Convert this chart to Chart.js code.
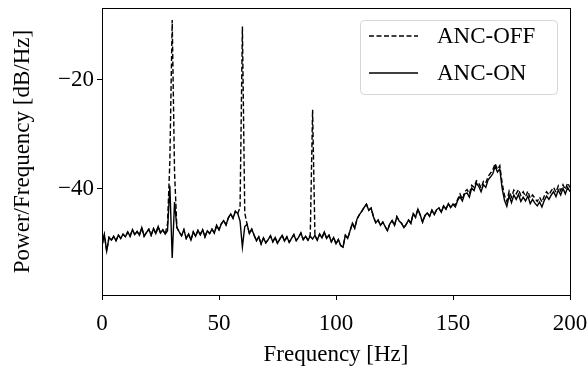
<!DOCTYPE html>
<html>
<head>
<meta charset="utf-8">
<script src="https://cdn.jsdelivr.net/npm/chart.js@4"></script>
<style>
  html, body { margin: 0; padding: 0; background: #fff; }
  #wrap { width: 587px; height: 369px; }
</style>
</head>
<body>
<div id="wrap"><canvas id="psd" width="587" height="369"></canvas></div>
<script>
// Frequency bins [Hz]
const freqs = [
  0, 1, 2, 3, 4, 5, 6, 7, 8, 9, 10, 11, 12, 13, 14, 15, 16, 17, 18, 19,
  20, 21, 22, 23, 24, 25, 26, 27, 28, 29, 30, 31, 32, 33, 34, 35, 36, 37, 38, 39,
  40, 41, 42, 43, 44, 45, 46, 47, 48, 49, 50, 51, 52, 53, 54, 55, 56, 57, 58, 59,
  60, 61, 62, 63, 64, 65, 66, 67, 68, 69, 70, 71, 72, 73, 74, 75, 76, 77, 78, 79,
  80, 81, 82, 83, 84, 85, 86, 87, 88, 89, 90, 91, 92, 93, 94, 95, 96, 97, 98, 99,
  100, 101, 102, 103, 104, 105, 106, 107, 108, 109, 110, 111, 112, 113, 114, 115, 116, 117, 118, 119,
  120, 121, 122, 123, 124, 125, 126, 127, 128, 129, 130, 131, 132, 133, 134, 135, 136, 137, 138, 139,
  140, 141, 142, 143, 144, 145, 146, 147, 148, 149, 150, 151, 152, 153, 154, 155, 156, 157, 158, 159,
  160, 161, 162, 163, 164, 165, 166, 167, 168, 169, 170, 171, 172, 173, 174, 175, 176, 177, 178, 179,
  180, 181, 182, 183, 184, 185, 186, 187, 188, 189, 190, 191, 192, 193, 194, 195, 196, 197, 198, 199,
  200
];

// PSD with ANC on [dB/Hz]
const ancOn = [
  -50.5, -48.5, -51.5, -49.0, -49.5, -48.8, -49.6, -48.6, -49.2, -48.4, -48.9,
  -48.0, -48.8, -47.6, -48.5, -47.9, -48.6, -47.2, -48.8, -48.1, -47.5,
  -48.6, -47.4, -48.3, -47.0, -48.2, -47.6, -48.4, -47.8, -39.5, -52.8,
  -42.5, -47.2, -48.0, -48.7, -47.6, -49.2, -48.4, -49.5, -48.0, -48.8,
  -47.7, -48.5, -47.6, -48.9, -47.8, -48.3, -47.5, -48.2, -46.8, -47.6,
  -46.5, -45.9, -46.7, -45.4, -44.7, -45.5, -44.2, -44.6, -46.0, -50.8,
  -47.0, -46.6, -48.3, -47.5, -48.6, -49.6, -48.9, -50.2, -49.1, -50.0,
  -49.4, -48.7, -49.8, -49.0, -50.1, -49.3, -48.6, -49.7, -48.9, -49.9,
  -49.2, -48.5, -49.6, -49.0, -48.2, -49.4, -48.8, -49.5, -48.8, -49.3,
  -48.6, -49.5, -48.4, -49.1, -48.0, -49.2, -48.6, -49.8, -49.0, -50.2,
  -49.4, -50.5, -50.8, -48.6, -49.2, -47.8, -46.4, -47.3, -45.6, -44.8,
  -44.2, -43.5, -42.9, -44.0, -43.6, -45.2, -46.3, -45.8, -46.8, -46.2,
  -47.0, -47.8, -46.5, -45.9, -46.8, -45.2, -46.0, -46.4, -47.2, -46.6,
  -45.8, -46.4, -44.6, -45.3, -43.8, -44.9, -46.2, -45.0, -44.5, -45.1,
  -44.0, -44.8, -43.9, -43.6, -44.4, -43.2, -43.8, -42.8, -43.5, -42.9,
  -43.4, -42.2, -41.5, -42.3, -41.0, -40.8, -41.6, -39.9, -40.4, -39.0,
  -39.6, -40.6, -39.3, -39.8, -38.4, -37.9, -37.3, -35.9, -37.0, -36.4,
  -40.0, -42.2, -43.3, -41.3, -42.6, -41.2, -42.0, -41.1, -42.4, -41.6,
  -42.3, -41.4, -42.8, -42.0, -42.7, -43.2, -42.5, -43.4, -42.2, -41.4,
  -42.0, -41.2, -40.6, -41.5, -40.3, -41.2, -40.0, -41.0, -39.8, -40.6
];

// PSD with ANC off [dB/Hz]
const ancOff = [
  -50.5, -48.5, -51.5, -49.0, -49.5, -48.8, -49.6, -48.6, -49.2, -48.4, -48.9,
  -48.0, -48.8, -47.6, -48.5, -47.9, -48.6, -47.2, -48.8, -48.1, -47.5,
  -48.6, -47.4, -48.3, -47.0, -48.2, -47.6, -48.4, -46.5, -35.0, -9.0,
  -37.0, -47.2, -48.0, -48.7, -47.6, -49.2, -48.4, -49.5, -48.0, -48.8,
  -47.7, -48.5, -47.6, -48.9, -47.8, -48.3, -47.5, -48.2, -46.8, -47.6,
  -46.5, -45.9, -46.7, -45.4, -44.7, -45.5, -44.2, -44.6, -43.5, -10.2,
  -44.5, -46.6, -48.3, -47.5, -48.6, -49.6, -48.9, -50.2, -49.1, -50.0,
  -49.4, -48.7, -49.8, -49.0, -50.1, -49.3, -48.6, -49.7, -48.9, -49.9,
  -49.2, -48.5, -49.6, -49.0, -48.2, -49.4, -48.8, -49.5, -48.5, -25.5,
  -48.8, -49.5, -48.4, -49.1, -48.0, -49.2, -48.6, -49.8, -49.0, -50.2,
  -49.4, -50.5, -50.8, -48.6, -49.2, -47.8, -46.4, -47.3, -45.6, -44.8,
  -44.2, -43.5, -42.9, -44.0, -43.6, -45.2, -46.3, -45.8, -46.8, -46.2,
  -47.0, -47.8, -46.5, -45.9, -46.8, -45.2, -46.0, -46.4, -47.2, -46.6,
  -45.8, -46.4, -44.6, -45.3, -43.8, -44.9, -46.2, -45.0, -44.5, -45.1,
  -44.0, -44.8, -43.9, -43.6, -44.4, -43.2, -43.8, -42.8, -43.5, -42.9,
  -43.0, -42.0, -41.0, -42.0, -40.6, -40.2, -41.0, -39.4, -39.8, -38.6,
  -39.0, -39.9, -38.7, -39.0, -37.8, -37.2, -36.6, -35.4, -36.5, -35.8,
  -39.0, -41.3, -42.4, -40.5, -41.6, -40.3, -41.0, -40.2, -41.3, -40.6,
  -41.5, -40.5, -41.8, -41.2, -41.8, -42.4, -41.6, -42.5, -41.4, -40.6,
  -41.2, -40.4, -39.8, -40.7, -39.5, -40.4, -39.3, -40.2, -39.0, -39.8
];

const xTicks = [0, 50, 100, 150, 200];
const yTicks = [-40, -20];

const FONT = "'Liberation Serif', 'DejaVu Serif', serif";
const FONT_SIZE = 23;

function toPoints(ys) { return freqs.map((f, i) => ({ x: f, y: ys[i] })); }
function minusSign(v) { return String(v).replace('-', '\u2212'); }

// frame round the plot area (all four spines)
const framePlugin = {
  id: 'frame',
  afterDatasetsDraw(chart) {
    const { ctx, chartArea: a } = chart;
    ctx.save();
    ctx.strokeStyle = '#000';
    ctx.lineWidth = 1;
    ctx.strokeRect(Math.round(a.left) + 0.5, Math.round(a.top) + 0.5,
      Math.round(a.right - a.left), Math.round(a.bottom - a.top));
    ctx.restore();
  }
};

// matplotlib style legend in the upper right
const legendPlugin = {
  id: 'mplLegend',
  afterDraw(chart) {
    const { ctx, chartArea: a } = chart;
    const w = 197, h = 74, x = a.right - 13 - w, y = a.top + 12;
    ctx.save();
    ctx.fillStyle = 'rgba(255,255,255,0.8)';
    ctx.strokeStyle = '#d6d6d6';
    ctx.lineWidth = 1;
    ctx.beginPath();
    ctx.roundRect(x + 0.5, y + 0.5, w, h, 4);
    ctx.fill();
    ctx.stroke();
    ctx.font = FONT_SIZE + 'px ' + FONT;
    ctx.textBaseline = 'middle';
    ctx.fillStyle = '#000';
    chart.data.datasets.forEach((ds, i) => {
      const ry = y + 16 + i * 37;
      ctx.beginPath();
      ctx.setLineDash(ds.borderDash || []);
      ctx.lineWidth = ds.borderWidth;
      ctx.strokeStyle = ds.borderColor;
      ctx.moveTo(x + 9, ry);
      ctx.lineTo(x + 58, ry);
      ctx.stroke();
      ctx.setLineDash([]);
      ctx.fillText(ds.label, x + 77, ry + 1);
    });
    ctx.restore();
  }
};

new Chart(document.getElementById('psd'), {
  type: 'line',
  data: {
    datasets: [
      { label: 'ANC-OFF', data: toPoints(ancOff), borderColor: '#000', borderWidth: 1.4, borderDash: [5, 2.5], pointRadius: 0, tension: 0, order: 1 },
      { label: 'ANC-ON', data: toPoints(ancOn), borderColor: '#000', borderWidth: 1.4, pointRadius: 0, tension: 0, order: 0 },
    ]
  },
  options: {
    animation: false,
    responsive: false,
    devicePixelRatio: 1,
    layout: { padding: { top: 8, right: 17, left: 0, bottom: 0 } },
    plugins: { legend: { display: false }, tooltip: { enabled: false } },
    scales: {
      x: {
        type: 'linear', min: 0, max: 200,
        afterBuildTicks: (s) => { s.ticks = xTicks.map(v => ({ value: v })); },
        afterFit: (s) => { s.height = 74; s.paddingLeft = 0; s.paddingRight = 0; },
        grid: { display: true, drawOnChartArea: false, tickLength: 5, color: '#000', tickColor: '#000' },
        border: { display: false },
        ticks: { color: '#000', padding: 10, maxRotation: 0, font: { family: FONT, size: FONT_SIZE } },
        title: { display: true, text: 'Frequency [Hz]', color: '#000', padding: { top: 0, bottom: 0 }, font: { family: FONT, size: FONT_SIZE } }
      },
      y: {
        type: 'linear', min: -59.6, max: -6.8,
        afterBuildTicks: (s) => { s.ticks = yTicks.map(v => ({ value: v })); },
        afterFit: (s) => { s.width = 102; s.paddingTop = 0; s.paddingBottom = 0; },
        grid: { display: true, drawOnChartArea: false, tickLength: 5, color: '#000', tickColor: '#000' },
        border: { display: false },
        ticks: { color: '#000', padding: 3, callback: (v) => minusSign(v), font: { family: FONT, size: FONT_SIZE } },
        title: { display: true, text: 'Power/Frequency [dB/Hz]', color: '#000', padding: { top: 9, bottom: 0 }, font: { family: FONT, size: FONT_SIZE } }
      }
    }
  },
  plugins: [framePlugin, legendPlugin]
});
</script>
</body>
</html>
